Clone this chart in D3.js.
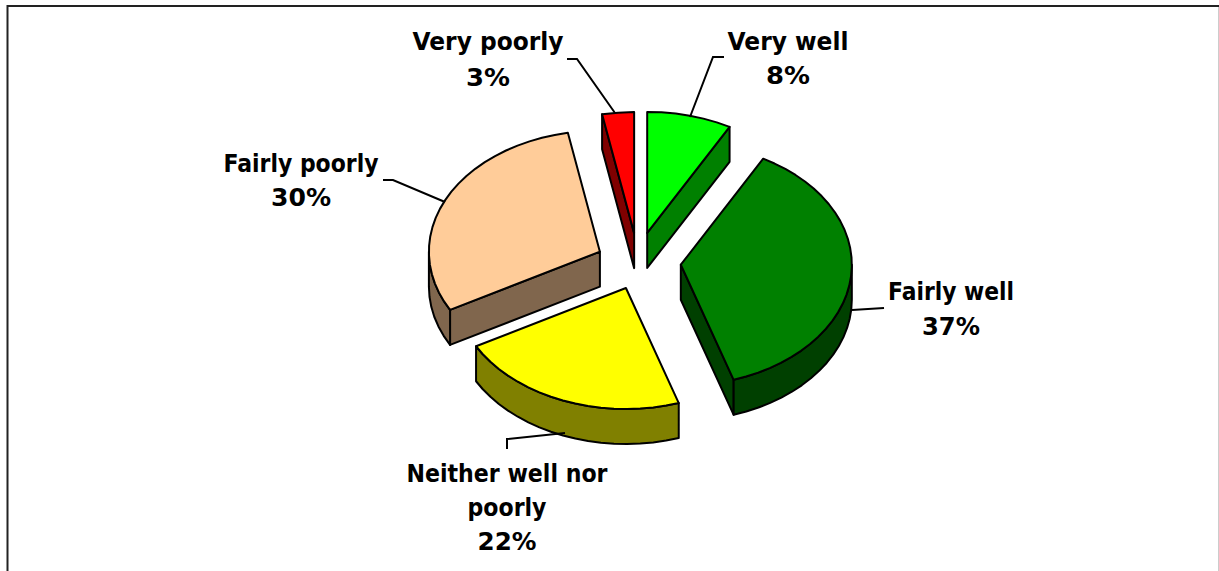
<!DOCTYPE html>
<html>
<head>
<meta charset="utf-8">
<script src="https://cdn.jsdelivr.net/npm/d3@7"></script>
<style>
  html, body { margin: 0; padding: 0; background: #fff; overflow: hidden; }
  text { font-family: "DejaVu Sans", sans-serif; font-weight: bold; font-size: 25px; fill: #000; text-anchor: middle; }
</style>
</head>
<body>
<script>
// chart data
var categories = ["Very well", "Fairly well", "Neither well nor poorly", "Fairly poorly", "Very poorly"];
var values = [8, 37, 22, 30, 3];
var topColors = ["#00ff00", "#008000", "#ffff00", "#ffcc99", "#ff0000"];
var sideColors = ["#008000", "#004000", "#808000", "#80664d", "#800000"];

// label text, one row per line
var labelLines = [
  ["Very well", "8%"],
  ["Fairly well", "37%"],
  ["Neither well nor", "poorly", "22%"],
  ["Fairly poorly", "30%"],
  ["Very poorly", "3%"]
];
var lineWidths = [
  [121, 44],
  [126, 58],
  [201, 79, 59],
  [155, 60],
  [151, 44]
];

// layout
var w = 1219, h = 571;
var cx = 639, cy = 262;
var rx = 171, tilt = 0.7076, depth = 35;
var explode = 41;
var nudgeX = [-2, 1, 2, -2, -1];
var nudgeY = [-1, 0, -1, 2, 0];
var labelX = [788, 951, 507, 301, 488];
var labelY = [50, 300, 482, 172, 50];
var lineStep = [34, 35, 34, 34, 36];
var facet = Math.PI / 40;  // the original rim is not a smooth curve
var leaders = [
  [[724, 57], [713, 57], [690, 117]],
  [[884, 308], [852, 310]],
  [[507, 449], [507, 439], [565, 433]],
  [[383, 180], [393, 180], [445, 202]],
  [[567, 59], [577, 59], [615, 113]]
];

var svg = d3.select("body").append("svg")
  .attr("width", w)
  .attr("height", h)
  .style("display", "block");

// frame, open at the bottom
svg.append("path")
  .attr("d", "M7.5," + h + "V6H" + w)
  .attr("fill", "none")
  .attr("stroke", "#222")
  .attr("stroke-width", 2);
svg.append("line")
  .attr("x1", 1218.5).attr("x2", 1218.5)
  .attr("y1", 7).attr("y2", h)
  .attr("stroke", "#ccc");

var pie = d3.pie().sort(null)(values);

// screen point on the squashed pie, for angle a and radius r
function rim(a, r) {
  var p = d3.pointRadial(a, r);
  return [p[0], p[1] * tilt];
}

// rim points between two angles
function rimPoints(a0, a1) {
  var n = Math.max(1, Math.round((a1 - a0) / facet));
  return d3.range(0, n + 1).map(function(k) { return rim(a0 + (a1 - a0) * k / n, rx); });
}

var line = d3.line();

var slices = svg.selectAll("g.slice")
  .data(pie)
  .enter()
  .append("g")
  .attr("class", "slice")
  .attr("transform", function(d, i) {
    var mid = (d.startAngle + d.endAngle) / 2;
    var o = rim(mid, explode);
    return "translate(" + (cx + o[0] + nudgeX[i]) + "," + (cy + o[1] + nudgeY[i]) + ")";
  });

slices.each(function(d, i) {
  var g = d3.select(this);

  function face(points, color) {
    g.append("path")
      .attr("d", line(points) + "Z")
      .attr("fill", color)
      .attr("stroke", "#000")
      .attr("stroke-width", 2)
      .attr("stroke-linejoin", "round");
  }

  function edge(a) {
    var p = rim(a, rx);
    face([[0, 0], p, [p[0], p[1] + depth], [0, depth]], sideColors[i]);
  }

  // only the faces turned to the viewer
  if (Math.sin(d.startAngle) < -1e-6) edge(d.startAngle);
  if (Math.sin(d.endAngle) > 1e-6) edge(d.endAngle);

  var a0 = Math.max(d.startAngle, Math.PI / 2);
  var a1 = Math.min(d.endAngle, Math.PI * 1.5);
  if (a1 > a0) {
    var upper = rimPoints(a0, a1);
    var lower = upper.slice().reverse().map(function(p) { return [p[0], p[1] + depth]; });
    face(upper.concat(lower), sideColors[i]);
  }

  face([[0, 0]].concat(rimPoints(d.startAngle, d.endAngle)), topColors[i]);
});

svg.selectAll("path.leader")
  .data(leaders)
  .enter()
  .append("path")
  .attr("class", "leader")
  .attr("d", function(d) { return line(d); })
  .attr("fill", "none")
  .attr("stroke", "#000")
  .attr("stroke-width", 2);

labelLines.forEach(function(rows, i) {
  var t = svg.append("text").attr("data-category", categories[i]);
  rows.forEach(function(s, j) {
    t.append("tspan")
      .attr("x", labelX[i])
      .attr("y", labelY[i] + j * lineStep[i])
      .attr("textLength", lineWidths[i][j])
      .attr("lengthAdjust", "spacingAndGlyphs")
      .text(s);
  });
});
</script>
</body>
</html>
